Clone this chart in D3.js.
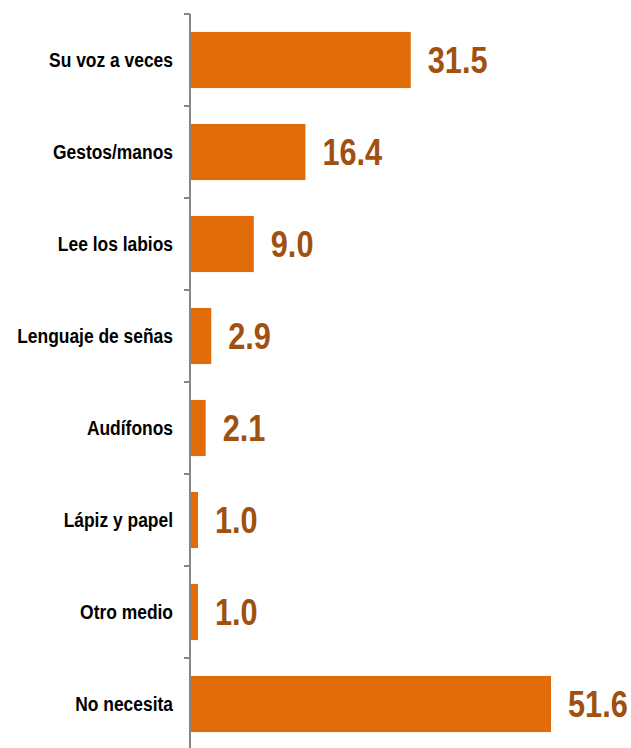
<!DOCTYPE html>
<html>
<head>
<meta charset="utf-8">
<script src="https://cdn.jsdelivr.net/npm/d3@7"></script>
<style>
  body { margin: 0; background: #fff; }
  text { font-family: "Liberation Sans", Arial, sans-serif; font-weight: bold; }
</style>
</head>
<body>
<script>
var categories = ["Su voz a veces", "Gestos/manos", "Lee los labios", "Lenguaje de señas",
  "Audífonos", "Lápiz y papel", "Otro medio", "No necesita"];
var values = [31.5, 16.4, 9.0, 2.9, 2.1, 1.0, 1.0, 51.6];

var svgWidth = 631;
var svgHeight = 748;
var axisX = 190;
var plotTop = 14;
var narrow = 0.83; // squeeze text to look like Arial Narrow

var svg = d3.select("body")
  .append("svg")
  .attr("width", svgWidth)
  .attr("height", svgHeight);

var yScale = d3.scaleBand()
  .domain(categories)
  .range([plotTop, plotTop + 92 * categories.length])
  .paddingInner(0.39)
  .paddingOuter(0.195);

var xScale = d3.scaleLinear()
  .domain([0, 51.6])
  .range([axisX + 1, 551]);

// bars
svg.selectAll("rect.bar")
  .data(values)
  .enter()
  .append("rect")
  .attr("class", "bar")
  .attr("x", xScale(0))
  .attr("y", (d, i) => yScale(categories[i]))
  .attr("width", d => xScale(d) - xScale(0))
  .attr("height", yScale.bandwidth())
  .attr("fill", "#e36c0a");

// value labels
svg.selectAll("text.val")
  .data(values)
  .enter()
  .append("text")
  .attr("class", "val")
  .attr("transform", (d, i) => "translate(" + (xScale(d) + 17) + "," +
    (yScale(categories[i]) + yScale.bandwidth() / 2) + ") scale(" + narrow + ",1)")
  .attr("dy", "0.36em")
  .attr("font-size", "37px")
  .attr("fill", "#a0500f")
  .text(d => d.toFixed(1));

// category axis
var leftAxis = d3.axisLeft(yScale).tickSize(0);
var axisG = svg.append("g")
  .attr("transform", "translate(" + axisX + ",0)")
  .call(leftAxis);
axisG.select(".domain").remove();
axisG.selectAll("text")
  .attr("x", 0)
  .attr("transform", "translate(-17,0) scale(" + narrow + ",1)")
  .attr("font-size", "21px")
  .attr("fill", "#000")
  .attr("font-family", null);

// axis line and boundary ticks
var halfGap = yScale.step() * yScale.paddingInner() / 2;
var bounds = categories.map(c => yScale(c) - halfGap);
bounds.push(yScale(categories[categories.length - 1]) + yScale.bandwidth() + halfGap);

svg.append("line")
  .attr("x1", axisX).attr("x2", axisX)
  .attr("y1", bounds[0]).attr("y2", svgHeight)
  .attr("stroke", "#868686")
  .attr("stroke-width", 2);

svg.selectAll("line.tick")
  .data(bounds)
  .enter()
  .append("line")
  .attr("class", "tick")
  .attr("x1", axisX - 6).attr("x2", axisX)
  .attr("y1", d => d).attr("y2", d => d)
  .attr("stroke", "#868686")
  .attr("stroke-width", 2);
</script>
</body>
</html>
